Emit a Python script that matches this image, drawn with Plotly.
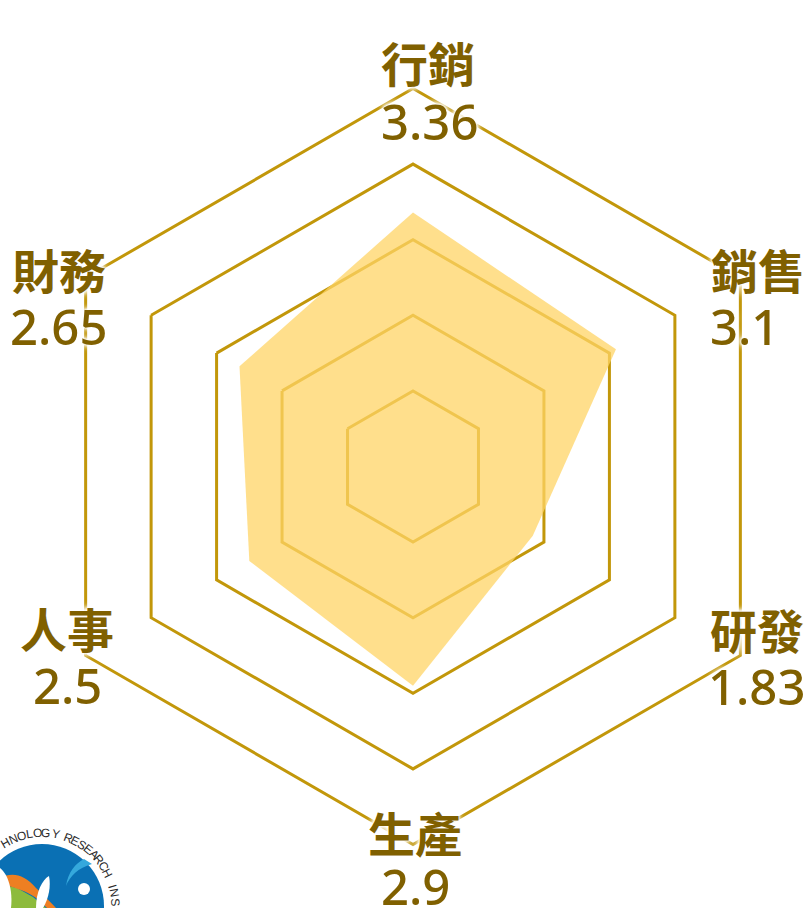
import math
import plotly.graph_objects as go

categories = ["行銷", "銷售", "研發", "生產", "人事", "財務"]
values = [3.36, 3.1, 1.83, 2.9, 2.5, 2.65]
value_labels = ["3.36", "3.1", "1.83", "2.9", "2.5", "2.65"]
rings = [0, 5]

W, H = 808, 908
CX, CY, R = 413, 466.5, 378
GOLD = "#C2970A"
TEXT = "#806000"
FILL = "rgba(255,212,101,0.75)"
HALO = "0 0 3px #fff, 0 0 3px #fff, 0 0 5px #fff, 0 0 6px #fff, 0 0 8px #fff"

# label anchor pixels: (name x, name y, value x, value y)
label_pos = [
    (428, 62, 429, 121),
    (758, 268, 744, 326),
    (757, 628, 756, 686),
    (415, 831, 415, 886),
    (67, 627, 67, 685),
    (59, 268, 59, 326),
]

px = lambda x: x / W
py = lambda y: 1 - y / H

fig = go.Figure()
fig.add_trace(go.Scatterpolar(
    r=values + values[:1], theta=categories + categories[:1], mode="lines",
    fill="toself", fillcolor=FILL, line=dict(width=0, color="rgba(0,0,0,0)"),
    hoverinfo="skip", showlegend=False,
))

annotations = []
for cat, val, (nx, ny, vx, vy) in zip(categories, value_labels, label_pos):
    annotations.append(dict(text=cat, x=px(nx), y=py(ny), xref="paper", yref="paper",
                            showarrow=False, xanchor="center", yanchor="middle",
                            font=dict(family="Noto Sans CJK TC", size=47, color=TEXT, weight=700, shadow=HALO)))
    annotations.append(dict(text=val, x=px(vx), y=py(vy), xref="paper", yref="paper",
                            showarrow=False, xanchor="center", yanchor="middle",
                            font=dict(family="Noto Sans", size=49, color=TEXT, weight=500, shadow=HALO)))

# logo (partly cropped by the page)
LX, LY, LT, LB = 42, 906, 73, 62
letters = [("H", -30), ("N", -23), ("O", -16), ("L", -9.5), ("O", -3.5), ("G", 3), ("Y", 11),
           ("R", 21), ("E", 27), ("S", 33), ("E", 39), ("A", 45), ("R", 51), ("C", 57), ("H", 63),
           ("I", 74), ("N", 80), ("S", 87)]
for ch, a in letters:
    t = math.radians(a)
    annotations.append(dict(text=ch, x=px(LX + LT * math.sin(t)), y=py(LY - LT * math.cos(t)),
                            xref="paper", yref="paper", showarrow=False, textangle=a,
                            xanchor="center", yanchor="middle",
                            font=dict(family="Liberation Sans", size=12, color="#2a2a2a")))


def path(cmds):
    out = []
    for c in cmds:
        if isinstance(c, str):
            out.append(c)
        else:
            out.append(f"{px(c[0]):.5f},{py(c[1]):.5f}")
    return " ".join(out)


shapes = [
    dict(type="circle", xref="paper", yref="paper", layer="above", fillcolor="#0A70B4", line_width=0,
         x0=px(LX - LB), x1=px(LX + LB), y0=py(LY + LB), y1=py(LY - LB)),
    dict(type="path", xref="paper", yref="paper", layer="above", fillcolor="#8DBB3C", line_width=0,
         path=path(["M", (0, 884), "L", (17, 888), "L", (33, 897), "L", (46, 908), "L", (0, 908), "Z"])),
    dict(type="path", xref="paper", yref="paper", layer="above", fillcolor="#EE7F22", line_width=0,
         path=path(["M", (0, 878), "C", (12, 872), (24, 874), (36, 888), "C", (44, 895), (50, 902), (56, 908),
                    "L", (47, 908), "C", (38, 898), (28, 890), (0, 884), "Z"])),
    dict(type="path", xref="paper", yref="paper", layer="above", fillcolor="#FFFFFF", line_width=0,
         path=path(["M", (49, 876), "C", (42, 880), (36, 892), (36, 908), "L", (43, 908),
                    "C", (49, 898), (51, 886), (49, 876), "Z"])),
    dict(type="path", xref="paper", yref="paper", layer="above", fillcolor="#FFFFFF", line_width=0,
         path=path(["M", (0, 868), "C", (8, 874), (13, 890), (11, 908), "L", (0, 908), "Z"])),
    dict(type="circle", xref="paper", yref="paper", layer="above", fillcolor="#FFFFFF", line_width=0,
         x0=px(78), x1=px(90), y0=py(895), y1=py(883)),
    dict(type="path", xref="paper", yref="paper", layer="above", fillcolor="#35A8DC", line_width=0,
         path=path(["M", (84, 859), "C", (76, 863), (68, 872), (66, 886), "C", (70, 876), (78, 868), (92, 864), "Z"])),
]

fig.update_layout(
    width=W, height=H, margin=dict(l=0, r=0, t=0, b=0),
    paper_bgcolor="white", plot_bgcolor="white",
    showlegend=False, annotations=annotations, shapes=shapes,
    polar=dict(
        domain=dict(x=[px(CX - R), px(CX + R)], y=[py(CY + R), py(CY - R)]),
        bgcolor="rgba(0,0,0,0)",
        gridshape="linear",
        angularaxis=dict(direction="clockwise", rotation=90, showgrid=False, showticklabels=False,
                         ticks="", linecolor=GOLD, linewidth=3, categoryorder="array", categoryarray=categories),
        radialaxis=dict(range=rings, dtick=1, showticklabels=False, ticks="", showline=False,
                        gridcolor=GOLD, gridwidth=3),
    ),
)
fig.write_html("out.html", config=dict(displayModeBar=False),
               post_script="document.body.style.margin='0';document.body.style.overflow='hidden';")
